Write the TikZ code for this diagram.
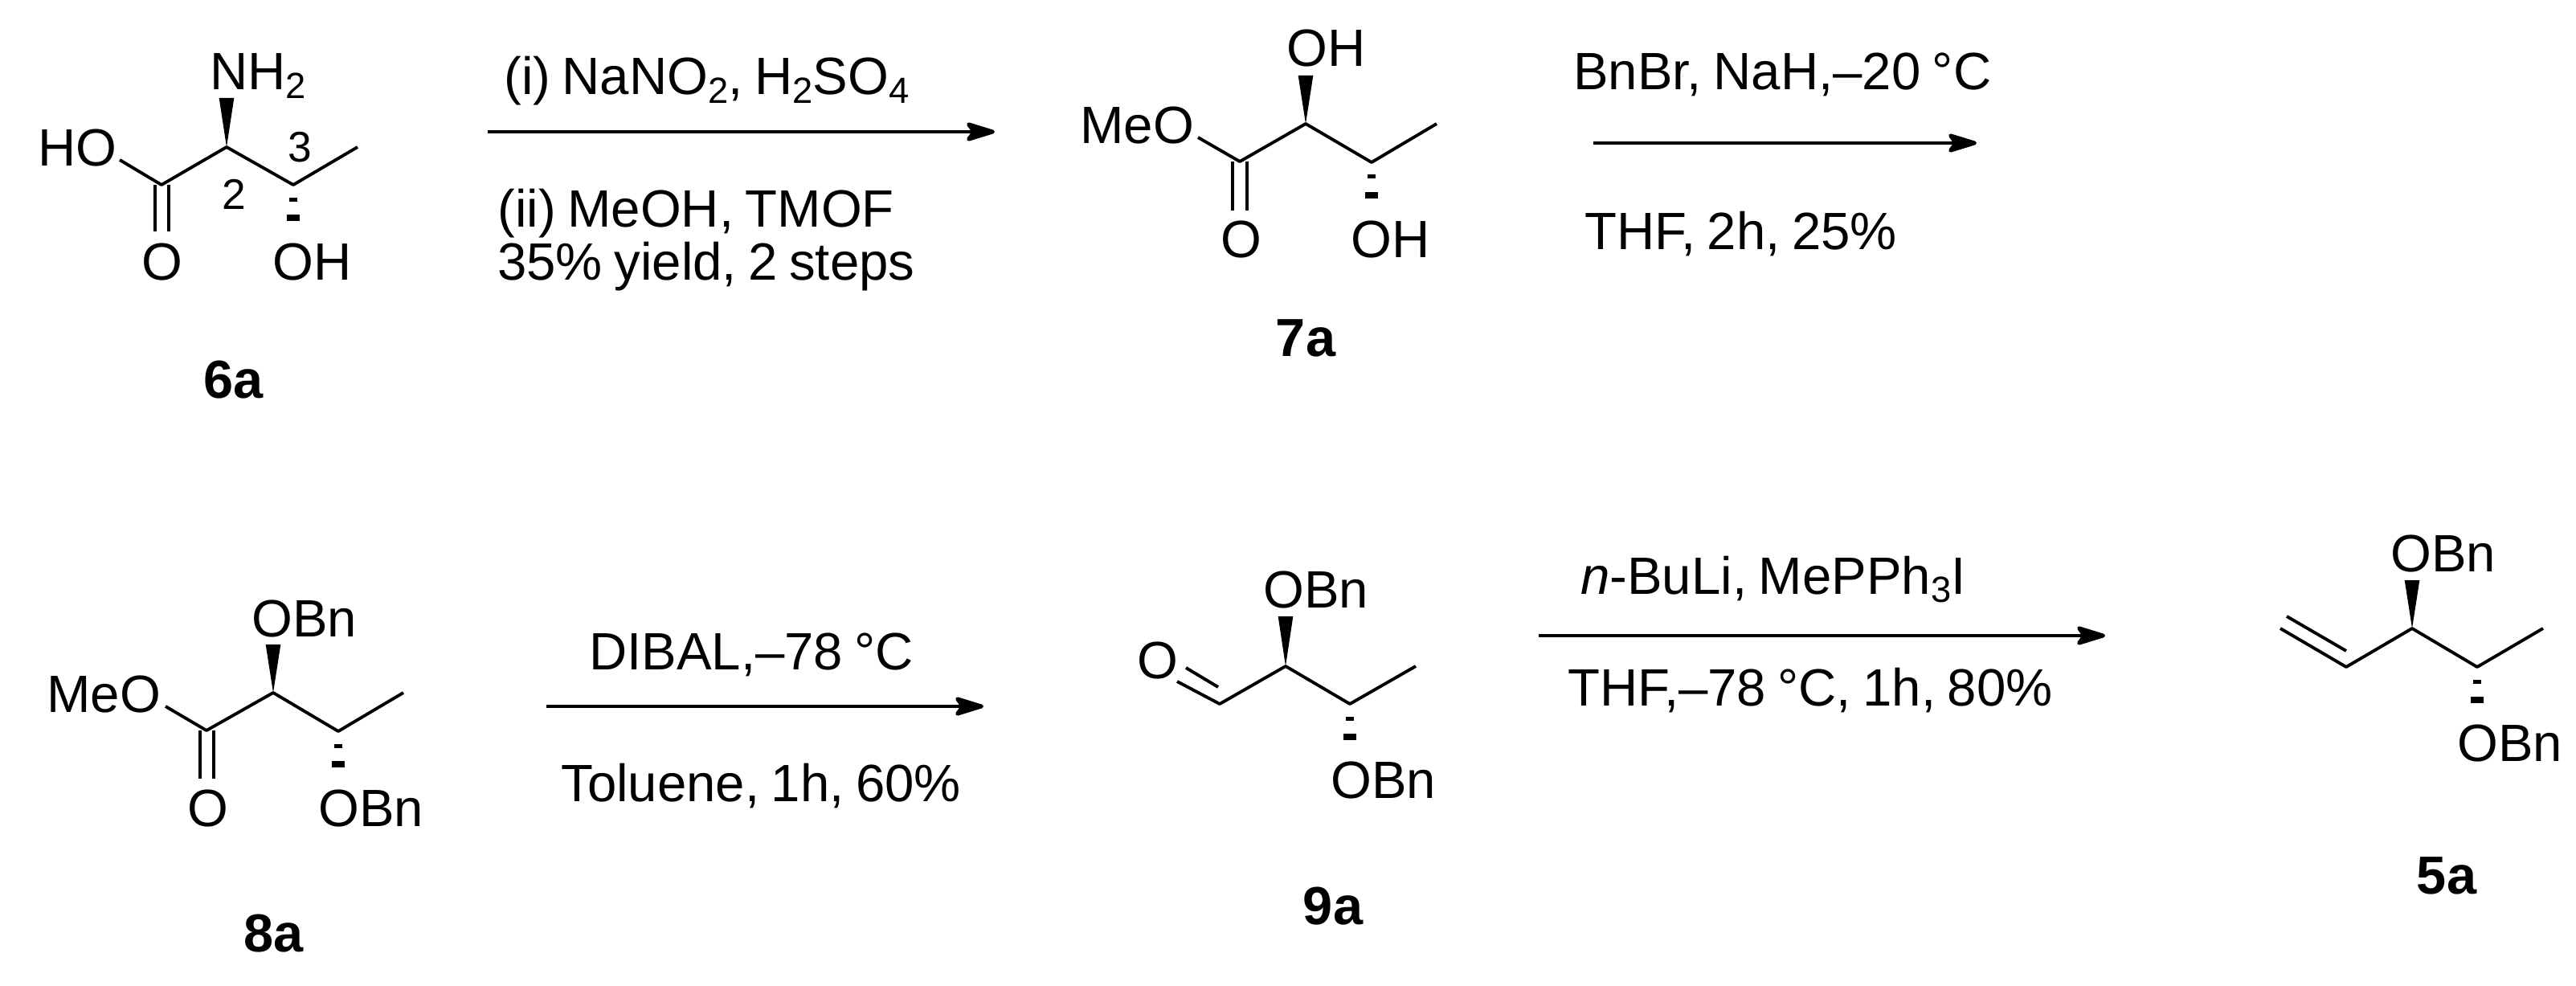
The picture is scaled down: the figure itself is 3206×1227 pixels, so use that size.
\documentclass[tikz,border=0pt]{standalone}
\usepackage{fontspec}
\setmainfont[WordSpace=0.8]{Liberation Sans}
\usetikzlibrary{arrows.meta}

\newcommand{\sbs}[1]{\raisebox{-8pt}{\fontsize{34pt}{34pt}\selectfont #1}}
\newcommand{\wedgebond}[2]{\fill (#1) -- ([xshift=-7pt]#2) -- ([xshift=7pt]#2) -- cycle;}
\newcommand{\hashbond}[1]{
  \fill ([shift={(-5,15.5)}]#1) rectangle ([shift={(5,20.5)}]#1);
  \fill ([shift={(-8,37)}]#1) rectangle ([shift={(8,45)}]#1);
}

\tikzset{
  atom/.style={inner sep=0,anchor=base west,font=\fontsize{49pt}{49pt}\selectfont},
  reagent/.style={inner sep=0,anchor=base west,font=\fontsize{49pt}{49pt}\selectfont},
  locant/.style={inner sep=0,anchor=base west,font=\fontsize{40pt}{40pt}\selectfont},
  cmpd/.style={inner sep=0,anchor=base,font=\fontsize{50pt}{50pt}\selectfont\bfseries},
  bond/.style={line width=2.9pt,line join=round},
  rxnarrow/.style={line width=3.6pt,-{Stealth[length=33pt,width=20pt,inset=7pt,round]}},
}

\begin{document}
\begin{tikzpicture}[x=0.75pt,y=0.75pt,yscale=-1,xscale=1]
  \useasboundingbox (0,0) rectangle (3206,1227);

  % 6a
  \coordinate (s1) at (149,199);
  \coordinate (s2) at (201,230);
  \coordinate (s3) at (282,183);
  \coordinate (s4) at (365,230);
  \coordinate (s5) at (445,183);
  \coordinate (s6) at (282,122);
  \coordinate (s7) at (193,230);
  \coordinate (s8) at (193,288);
  \coordinate (s9) at (210,230);
  \coordinate (s10) at (210,288);
  \draw [bond] (s1) -- (s2) -- (s3) -- (s4) -- (s5);
  \draw [bond] (s7) -- (s8);
  \draw [bond] (s9) -- (s10);
  \wedgebond{s3}{s6}
  \hashbond{s4}
  \node [atom] (s_nh) at (261,112) {NH\sbs{2}};
  \node [atom] (s_ho) at (47,207) {HO};
  \node [atom] (s_o) at (176,348) {O};
  \node [atom] (s_oh) at (339,348) {OH};
  \node [locant] (s_two) at (276,260) {2};
  \node [locant] (s_three) at (358,202) {3};
  \node [cmpd] (s_name) at (291,495) {6a};

  % first arrow
  \coordinate (r1a) at (607,164);
  \coordinate (r1b) at (1238,164);
  \draw [rxnarrow] (r1a) -- (r1b);
  \node [reagent] (r1t) at (627,118) {(i) NaNO\sbs{2}, H\sbs{2}SO\sbs{4}};
  \node [reagent] (r1u) at (619,282) {(ii) MeOH, TMOF};
  \node [reagent] (r1v) at (619,348) {35\% yield, 2 steps};

  % 7a
  \coordinate (h1) at (1491,171);
  \coordinate (h2) at (1543,201);
  \coordinate (h3) at (1625,154);
  \coordinate (h4) at (1707,202);
  \coordinate (h5) at (1788,154);
  \coordinate (h6) at (1625,94);
  \coordinate (h7) at (1534,201);
  \coordinate (h8) at (1534,262);
  \coordinate (h9) at (1552,201);
  \coordinate (h10) at (1552,262);
  \draw [bond] (h1) -- (h2) -- (h3) -- (h4) -- (h5);
  \draw [bond] (h7) -- (h8);
  \draw [bond] (h9) -- (h10);
  \wedgebond{h3}{h6}
  \hashbond{h4}
  \node [atom] (h_oh) at (1601,83) {OH};
  \node [atom] (h_meo) at (1344,179) {MeO};
  \node [atom] (h_o) at (1519,320) {O};
  \node [atom] (h_ohb) at (1681,320) {OH};
  \node [cmpd] (h_name) at (1625,443) {7a};

  % second arrow
  \coordinate (r2a) at (1983,178);
  \coordinate (r2b) at (2460,178);
  \draw [rxnarrow] (r2a) -- (r2b);
  \node [reagent] (r2t) at (1958,112) {BnBr, NaH,--20 °C};
  \node [reagent] (r2u) at (1972,310) {THF, 2h, 25\%};

  % 8a
  \coordinate (b1) at (206,879);
  \coordinate (b2) at (257,909);
  \coordinate (b3) at (340,862);
  \coordinate (b4) at (421,910);
  \coordinate (b5) at (502,862);
  \coordinate (b6) at (340,802);
  \coordinate (b7) at (249,909);
  \coordinate (b8) at (249,969);
  \coordinate (b9) at (266,909);
  \coordinate (b10) at (266,969);
  \draw [bond] (b1) -- (b2) -- (b3) -- (b4) -- (b5);
  \draw [bond] (b7) -- (b8);
  \draw [bond] (b9) -- (b10);
  \wedgebond{b3}{b6}
  \hashbond{b4}
  \node [atom] (b_obn) at (313,792) {OBn};
  \node [atom] (b_meo) at (58,886) {MeO};
  \node [atom] (b_o) at (233,1028) {O};
  \node [atom] (b_obnb) at (396,1028) {OBn};
  \node [cmpd] (b_name) at (341,1184) {8a};

  % third arrow
  \coordinate (r3a) at (680,879);
  \coordinate (r3b) at (1224,879);
  \draw [rxnarrow] (r3a) -- (r3b);
  \node [reagent] (r3t) at (733,833) {DIBAL,--78 °C};
  \node [reagent] (r3u) at (698,997) {Toluene, 1h, 60\%};

  % 9a
  \coordinate (a1) at (1465,848);
  \coordinate (a2) at (1518,876);
  \coordinate (a3) at (1600,829);
  \coordinate (a4) at (1680,876);
  \coordinate (a5) at (1762,829);
  \coordinate (a6) at (1600,767);
  \coordinate (a7) at (1476,831);
  \coordinate (a8) at (1516,855);
  \draw [bond] (a1) -- (a2) -- (a3) -- (a4) -- (a5);
  \draw [bond] (a7) -- (a8);
  \wedgebond{a3}{a6}
  \hashbond{a4}
  \node [atom] (a_o) at (1415,844) {O};
  \node [atom] (a_obn) at (1572,756) {OBn};
  \node [atom] (a_obnb) at (1656,993) {OBn};
  \node [cmpd] (a_name) at (1659,1150) {9a};

  % fourth arrow
  \coordinate (r4a) at (1915,791);
  \coordinate (r4b) at (2620,791);
  \draw [rxnarrow] (r4a) -- (r4b);
  \node [reagent] (r4t) at (1967,739) {\textit{n}-BuLi, MePPh\sbs{3}I};
  \node [reagent] (r4u) at (1951,878) {THF,--78 °C, 1h, 80\%};

  % 5a
  \coordinate (e1) at (2838,782);
  \coordinate (e2) at (2920,830);
  \coordinate (e3) at (3002,782);
  \coordinate (e4) at (3083,830);
  \coordinate (e5) at (3165,782);
  \coordinate (e6) at (3002,722);
  \coordinate (e7) at (2846,767);
  \coordinate (e8) at (2920,810);
  \draw [bond] (e1) -- (e2) -- (e3) -- (e4) -- (e5);
  \draw [bond] (e7) -- (e8);
  \wedgebond{e3}{e6}
  \hashbond{e4}
  \node [atom] (e_obn) at (2975,711) {OBn};
  \node [atom] (e_obnb) at (3058,947) {OBn};
  \node [cmpd] (e_name) at (3045,1112) {5a};
\end{tikzpicture}
\end{document}
